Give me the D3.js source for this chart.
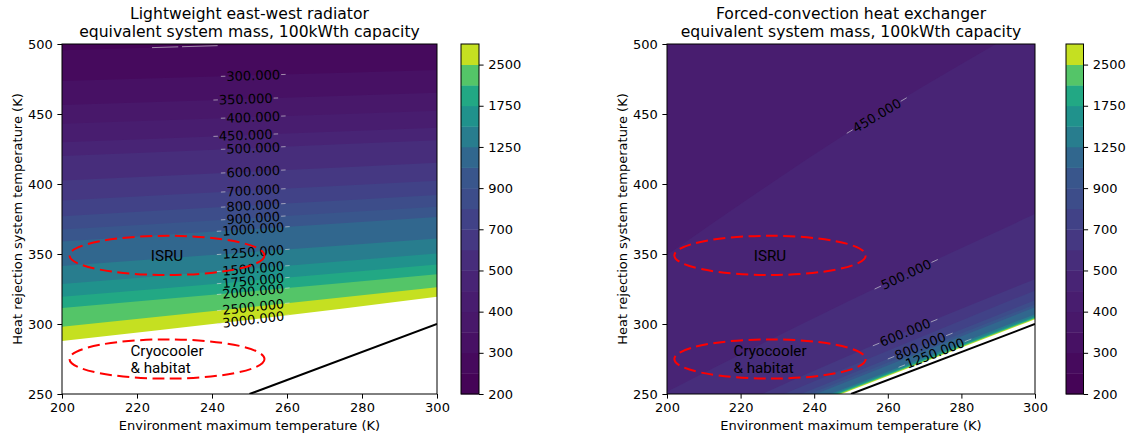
<!DOCTYPE html>
<html>
<head>
<meta charset="utf-8">
<script src="https://cdn.jsdelivr.net/npm/d3@7"></script>
<style>
  body { margin: 0; background: #fff; }
  text { font-family: "DejaVu Sans", sans-serif; fill: #000; }
  text.region { font-family: "Roboto", sans-serif; fill: #000; }
</style>
</head>
<body>
<svg id="chart" width="1131" height="439"></svg>
<script>
const levels = [200, 250, 300, 350, 400, 450, 500, 600, 700, 800, 900, 1000, 1250, 1500, 1750, 2000, 2500, 3000];
const colorbarTicks = [200, 300, 400, 500, 700, 900, 1250, 1750, 2500];
const xTicks = [200, 220, 240, 260, 280, 300];
const yTicks = [250, 300, 350, 400, 450, 500];

// environment temperatures at which each contour's heat rejection temperature was read
const sampleT = [200, 250, 300];

// Lightweight east-west radiator: contour heights (K) at sampleT
const radiatorLevels = [250, 300, 350, 400, 450, 500, 600, 700, 800, 900, 1000, 1250, 1500, 1750, 2000, 2500, 3000];
const radiatorContours = [
  [495.5, 499.5, 503.5],
  [473.5, 477.5, 481.5],
  [456.5, 460.8, 465.2],
  [443.0, 447.7, 452.4],
  [429.8, 435.0, 440.2],
  [420.0, 425.6, 431.2],
  [402.5, 408.8, 415.2],
  [388.3, 395.3, 402.3],
  [377.0, 384.6, 392.2],
  [367.5, 375.6, 383.7],
  [359.0, 367.7, 376.4],
  [341.5, 351.3, 361.1],
  [328.5, 339.4, 350.4],
  [319.5, 330.8, 342.5],
  [311.5, 323.2, 335.5],
  [298.0, 312.0, 326.3],
  [287.9, 303.0, 319.5]
];
const radiatorLabelLevels = [300, 350, 400, 450, 500, 600, 700, 800, 900, 1000, 1250, 1500, 1750, 2000, 2500, 3000];
const radiatorLabelT = [251, 249, 251, 249, 251, 251, 251, 251, 251, 251, 251, 251, 251, 251, 251, 251];

// Forced-convection heat exchanger: contour heights (K) at sampleT
const exchangerLevels = [450, 500, 600, 700, 800, 900, 1000, 1250, 1500, 1750, 2000, 2500, 3000];
const exchangerContours = [
  [349.3, 438.0, 516.0],
  [251.6, 317.1, 378.5],
  [219.0, 278.0, 332.0],
  [215.0, 270.0, 324.0],
  [211.0, 264.5, 317.0],
  [209.0, 262.0, 314.0],
  [207.5, 260.0, 312.0],
  [204.5, 255.8, 307.0],
  [203.8, 254.8, 305.8],
  [203.3, 254.2, 305.0],
  [202.9, 253.7, 304.5],
  [202.5, 253.2, 303.9],
  [202.1, 252.7, 303.4]
];
const exchangerLabelLevels = [450, 500, 600, 800, 1250];
const exchangerLabelT = [257, 265, 264.7, 268.8, 272.8];

// annotated application regions
const regionNames = ["ISRU", "Cryocooler\n& habitat"];
const regionEnvT = [228, 228];
const regionSysT = [349, 275];
const regionHalfWidth = 26;
const regionHalfHeight = 14;

// Tsys = Tenv line
const diagonal = [[250, 250], [300, 300]];

const svg = d3.select("#chart");

function bandColor(lo) {
  const i = levels.indexOf(lo);
  const mid = (levels[i] + levels[i + 1]) / 2;
  return d3.interpolateViridis((mid - levels[0]) / (levels[levels.length - 1] - levels[0]));
}

function drawPanel(p) {
  const top = 44, bottom = 394;
  const x = d3.scaleLinear().domain([200, 300]).range([p.left, p.right]);
  const y = d3.scaleLinear().domain([250, 500]).range([bottom, top]);

  const clipId = "clip-" + p.id;
  svg.append("clipPath").attr("id", clipId)
    .append("rect")
    .attr("x", p.left).attr("y", top)
    .attr("width", p.right - p.left).attr("height", bottom - top);

  const g = svg.append("g").attr("clip-path", `url(#${clipId})`);

  // lowest band everywhere, then each level's band painted over the region beyond it
  g.append("rect")
    .attr("x", p.left).attr("y", top)
    .attr("width", p.right - p.left).attr("height", bottom - top)
    .attr("fill", bandColor(p.baseLevel));

  const area = d3.area()
    .x(d => x(d[0]))
    .y0(y(150))
    .y1(d => y(d[1]))
    .curve(d3.curveMonotoneX);

  p.contourLevels.forEach((lev, i) => {
    const pts = sampleT.map((t, j) => [t, p.contours[i][j]]);
    const last = i === p.contourLevels.length - 1;
    g.append("path")
      .attr("d", area(pts))
      .attr("fill", last ? "#fff" : bandColor(lev));
  });

  // contour labels with short pieces of contour line either side
  const labelLayer = svg.append("g");
  p.labelLevels.forEach((lev, k) => {
    const i = p.contourLevels.indexOf(lev);
    const f = d3.scaleLinear().domain(sampleT).range(p.contours[i]);
    const t = p.labelT[k];
    const cx = x(t), cy = y(f(t));
    const dx = x(t + 1) - x(t - 1), dy = y(f(t + 1)) - y(f(t - 1));
    const ang = Math.atan2(dy, dx);
    const txt = labelLayer.append("text")
      .attr("transform", `translate(${cx},${cy}) rotate(${ang * 180 / Math.PI})`)
      .attr("text-anchor", "middle")
      .attr("dy", "0.36em")
      .attr("font-size", "13px")
      .text(lev.toFixed(3));
    const half = txt.node().getComputedTextLength() / 2;
    [-1, 1].forEach(s => {
      const a = half + 1, b = half + p.lineExtra;
      labelLayer.insert("line", "text")
        .attr("x1", cx + s * a * Math.cos(ang)).attr("y1", cy + s * a * Math.sin(ang))
        .attr("x2", cx + s * b * Math.cos(ang)).attr("y2", cy + s * b * Math.sin(ang))
        .attr("stroke", "#ddd").attr("stroke-opacity", 0.6).attr("stroke-width", 1);
    });
  });

  if (p.extraLine) {
    const i = p.contourLevels.indexOf(p.extraLine.level);
    const f = d3.scaleLinear().domain(sampleT).range(p.contours[i]);
    p.extraLine.spans.forEach(sp => {
      labelLayer.append("line")
        .attr("x1", x(sp[0])).attr("y1", y(f(sp[0])))
        .attr("x2", x(sp[1])).attr("y2", y(f(sp[1])))
        .attr("stroke", "#ddd").attr("stroke-opacity", 0.6).attr("stroke-width", 1);
    });
  }

  // Tsys = Tenv
  svg.append("path")
    .attr("clip-path", `url(#${clipId})`)
    .attr("d", d3.line().x(d => x(d[0])).y(d => y(d[1]))(diagonal))
    .attr("stroke", "#000").attr("stroke-width", 2).attr("fill", "none");

  // application regions
  regionNames.forEach((name, i) => {
    const cx = x(regionEnvT[i]), cy = y(regionSysT[i]);
    svg.append("ellipse")
      .attr("cx", cx).attr("cy", cy)
      .attr("rx", x(regionEnvT[i] + regionHalfWidth) - cx)
      .attr("ry", cy - y(regionSysT[i] + regionHalfHeight))
      .attr("fill", "none").attr("stroke", "#f00")
      .attr("stroke-width", 2).attr("stroke-dasharray", "12,5.5");
    const lines = name.split("\n");
    const lh = 16.6;
    const tg = svg.append("g");
    const texts = lines.map((ln, j) => tg.append("text")
      .attr("class", "region")
      .attr("x", 0)
      .attr("y", cy + 5.4 + (j - (lines.length - 1) / 2) * lh)
      .attr("font-size", "15.2px")
      .text(ln));
    const w = d3.max(texts, t => t.node().getComputedTextLength());
    tg.attr("transform", `translate(${cx - w / 2},0)`);
  });

  // frame and axes
  svg.append("rect")
    .attr("x", p.left).attr("y", top)
    .attr("width", p.right - p.left).attr("height", bottom - top)
    .attr("fill", "none").attr("stroke", "#000").attr("stroke-width", 1);

  const xa = svg.append("g").attr("transform", `translate(0,${bottom})`)
    .call(d3.axisBottom(x).tickValues(xTicks).tickSize(4.6).tickPadding(4.6).tickSizeOuter(0));
  const ya = svg.append("g").attr("transform", `translate(${p.left},0)`)
    .call(d3.axisLeft(y).tickValues(yTicks).tickSize(4.6).tickPadding(4.6).tickSizeOuter(0));
  [xa, ya].forEach(a => {
    a.select(".domain").remove();
    a.selectAll("text").attr("font-size", "13px");
    a.selectAll("line").attr("stroke", "#000");
  });

  svg.append("text")
    .attr("x", (p.left + p.right) / 2).attr("y", 430)
    .attr("text-anchor", "middle").attr("font-size", "13px")
    .text("Environment maximum temperature (K)");

  svg.append("text")
    .attr("transform", `translate(${p.left - 40.5},${(top + bottom) / 2}) rotate(-90)`)
    .attr("text-anchor", "middle").attr("font-size", "13px")
    .text("Heat rejection system temperature (K)");

  p.title.forEach((ln, i) => {
    svg.append("text")
      .attr("x", (p.left + p.right) / 2).attr("y", 18.5 + i * 18)
      .attr("text-anchor", "middle").attr("font-size", "15.6px")
      .text(ln);
  });

  // colorbar
  const cb = d3.scaleLinear().domain([0, levels.length - 1]).range([bottom, top]);
  const cbg = svg.append("g");
  levels.slice(0, -1).forEach((lev, i) => {
    cbg.append("rect")
      .attr("x", p.cbLeft).attr("y", cb(i + 1))
      .attr("width", p.cbWidth).attr("height", cb(i) - cb(i + 1) + 0.4)
      .attr("fill", bandColor(lev));
  });
  cbg.append("rect")
    .attr("x", p.cbLeft).attr("y", top)
    .attr("width", p.cbWidth).attr("height", bottom - top)
    .attr("fill", "none").attr("stroke", "#000").attr("stroke-width", 1);
  const ca = svg.append("g").attr("transform", `translate(${p.cbLeft + p.cbWidth},0)`)
    .call(d3.axisRight(cb)
      .tickValues(colorbarTicks.map(v => levels.indexOf(v)))
      .tickFormat(i => levels[i])
      .tickSize(4.6).tickPadding(4.6).tickSizeOuter(0));
  ca.select(".domain").remove();
  ca.selectAll("text").attr("font-size", "13px");
  ca.selectAll("line").attr("stroke", "#000");
}

drawPanel({
  id: "radiator",
  left: 62, right: 437, cbLeft: 461, cbWidth: 18,
  title: ["Lightweight east-west radiator", "equivalent system mass, 100kWth capacity"],
  baseLevel: 200,
  contourLevels: radiatorLevels,
  contours: radiatorContours,
  labelLevels: radiatorLabelLevels,
  labelT: radiatorLabelT,
  lineExtra: 5.5,
  extraLine: { level: 250, spans: [[224, 231], [232, 241.5]] }
});

drawPanel({
  id: "exchanger",
  left: 667, right: 1035, cbLeft: 1066, cbWidth: 17.5,
  title: ["Forced-convection heat exchanger", "equivalent system mass, 100kWth capacity"],
  baseLevel: 400,
  contourLevels: exchangerLevels,
  contours: exchangerContours,
  labelLevels: exchangerLabelLevels,
  labelT: exchangerLabelT,
  lineExtra: 8
});
</script>
</body>
</html>
